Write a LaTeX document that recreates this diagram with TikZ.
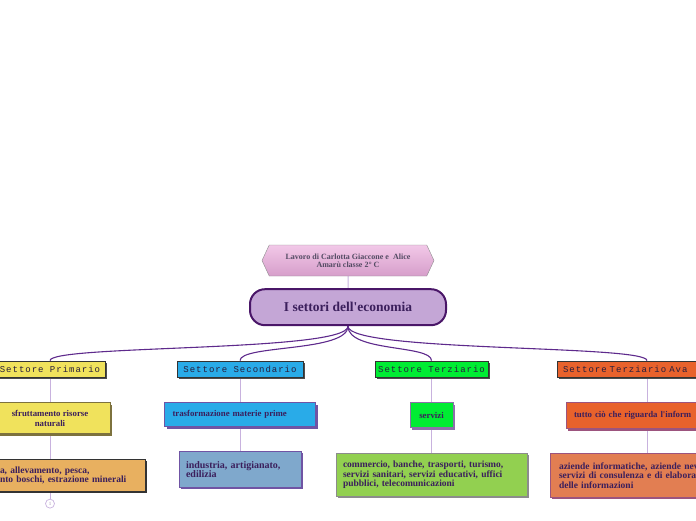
\documentclass[tikz,border=0pt]{standalone}
\usepackage{fontspec}
\setmainfont{Liberation Serif}
\newfontfamily\secfont[LetterSpace=11]{Liberation Mono}
\usetikzlibrary{shapes.symbols, positioning, shadows, backgrounds}
\definecolor{primyellow}{RGB}{240,226,92}
\definecolor{primsand}{RGB}{232,176,96}
\definecolor{primolive}{RGB}{125,114,62}
\definecolor{secblue}{RGB}{41,171,232}
\definecolor{secsteel}{RGB}{127,168,204}
\definecolor{secshadow}{RGB}{112,84,164}
\definecolor{terzgreen}{RGB}{0,236,51}
\definecolor{terzlight}{RGB}{146,208,80}
\definecolor{terzshadow}{RGB}{140,112,170}
\definecolor{avzorange}{RGB}{232,98,44}
\definecolor{avzsalmon}{RGB}{226,126,82}
\definecolor{avzshadow}{RGB}{156,84,126}
\definecolor{inkpurple}{RGB}{59,31,92}
\definecolor{inkdark}{RGB}{40,30,60}
\definecolor{linkpurple}{RGB}{200,178,222}
\definecolor{branchpurple}{RGB}{94,42,140}
\definecolor{mainfill}{RGB}{196,166,214}
\definecolor{mainline}{RGB}{74,22,104}
\definecolor{hextop}{RGB}{242,200,232}
\definecolor{hexbottom}{RGB}{214,158,202}

\begin{document}
\begin{tikzpicture}[x=1pt, y=-1pt, node distance=25pt,
    titlebox/.style={shape=signal, signal to=west and east, signal pointer angle=130,
        draw=black!45, top color=hextop, bottom color=hexbottom, minimum width=172pt,
        minimum height=31pt, align=center, text=inkdark!80,
        font=\bfseries\fontsize{8}{8}\selectfont},
    mainbox/.style={draw=mainline, line width=2pt, fill=mainfill, rounded corners=15pt,
        minimum width=196pt, minimum height=36pt, text=inkpurple,
        font=\bfseries\fontsize{13.5}{15}\selectfont},
    sectorbox/.style={draw=black!80, line width=0.8pt, minimum height=16pt, inner sep=0pt,
        text=inkdark, font=\secfont\fontsize{9}{10}\selectfont,
        drop shadow={shadow xshift=2pt, shadow yshift=-2pt, fill=black!70, opacity=1}},
    topicbox/.style={draw=#1, line width=0.6pt, inner ysep=2pt, text=inkpurple,
        font=\bfseries\fontsize{8.8}{9.5}\selectfont,
        drop shadow={shadow xshift=2pt, shadow yshift=-2pt, fill=#1, opacity=1}},
    detailbox/.style={draw=#1, line width=0.8pt, inner ysep=2pt, text=inkpurple,
        font=\bfseries\fontsize{9.5}{9.5}\selectfont,
        drop shadow={shadow xshift=2pt, shadow yshift=-2pt, fill=#1, opacity=1}},
    branch/.style={draw=branchpurple, line width=1.1pt},
    link/.style={draw=linkpurple, line width=1pt},
    morecircle/.style={circle, draw=linkpurple, fill=white, line width=0.7pt, minimum size=9pt,
        inner sep=0pt, text=linkpurple!80!black, font=\fontsize{5}{5}\selectfont}]
    \useasboundingbox (0,0) rectangle (696,520);
    \clip (0,0) rectangle (696,520);

    % Authors
    \node[titlebox] (authors) at (348,260.5) {Lavoro di Carlotta Giaccone e~ Alice\\Amarù classe 2° C};

    % Main topic
    \node[mainbox, below=12pt of authors] (economy) {I settori dell\textquotesingle economia};

    % Sectors
    \node[sectorbox, fill=primyellow, minimum width=110pt] (primario) at (50,369) {Settore Primario};
    \node[sectorbox, fill=secblue, minimum width=126pt] (secondario) at (240,369) {Settore Secondario};
    \node[sectorbox, fill=terzgreen, minimum width=113pt] (terziario) at (431.5,369) {Settore Terziario};
    \node[sectorbox, fill=avzorange, text width=168pt, inner xsep=6pt, align=left] (avanzato) at (647,369) {\mbox{Settore Terziario Ava}};

    % What each sector does
    \node[topicbox=primolive, fill=primyellow, minimum width=120pt, minimum height=31pt, align=center, below=of primario] (primario2) {sfruttamento risorse\\naturali};
    \node[topicbox=secshadow, fill=secblue, text width=135pt, inner xsep=8pt, minimum height=24pt, align=left, below=of secondario] (secondario2) {trasformazione materie prime};
    \node[topicbox=terzshadow, fill=terzgreen, minimum width=43pt, minimum height=25pt, below=of terziario] (terziario2) {servizi};
    \node[topicbox=avzshadow, fill=avzorange, text width=146pt, inner xsep=8pt, minimum height=26pt, align=left, below=of avanzato] (avanzato2) {tutto ciò che riguarda l\textquotesingle inform};

    % Examples
    \node[detailbox=black!80, fill=primsand, text width=180pt, inner xsep=5pt, minimum height=32pt, align=left, below=of primario2] (primario3) {\hspace*{40pt}a, allevamento, pesca,\\\hspace*{40pt}nto boschi, estrazione minerali};
    \node[detailbox=secshadow, fill=secsteel, text width=108pt, inner xsep=7pt, minimum height=36pt, align=left, font=\bfseries\fontsize{10}{9.5}\selectfont, below=24pt of secondario2] (secondario3) {industria, artigianato,\\edilizia};
    \node[detailbox=black!45, fill=terzlight, text width=177pt, inner xsep=7pt, minimum height=43pt, align=left, below=of terziario2] (terziario3) {commercio, banche, trasporti, turismo,\\servizi sanitari, servizi educativi, uffici\\pubblici, telecomunicazioni};
    \node[detailbox=avzshadow, fill=avzsalmon, text width=176pt, inner xsep=9pt, minimum height=44pt, align=left, below=24pt of avanzato2] (avanzato3) {aziende informatiche, aziende nev\\servizi di consulenza e di elaboraz\\delle informazioni};

    \node[morecircle, below=7pt of primario3] (primario4) {1};

    % Connectors
    \begin{scope}[on background layer]
        \draw[link] (authors) -- (economy);
        \foreach \s in {primario, secondario, terziario, avanzato} {
            \draw[branch] (economy.south) .. controls +(0,26) and +(0,-16) .. (\s.north);
            \draw[link] (\s) -- (\s2);
            \draw[link] (\s2) -- (\s3);
        }
        \draw[link] (primario3) -- (primario4);
    \end{scope}
\end{tikzpicture}
\end{document}
